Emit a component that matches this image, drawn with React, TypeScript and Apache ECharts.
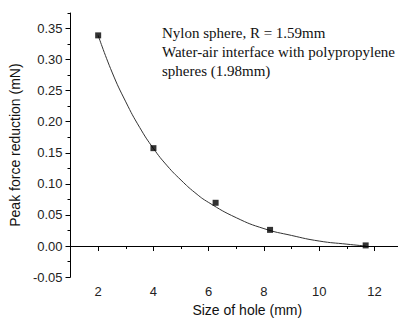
import React, { useEffect, useRef } from "react";
import * as echarts from "echarts";

// Measured points (Size of hole in mm, Peak force reduction in mN)
const holeSize = [2.0, 4.0, 6.25, 8.22, 11.68];
const forceReduction = [0.339, 0.1575, 0.0696, 0.026, 0.001];

// Fitted curve
const curveX = [2, 2.5, 3, 3.5, 4, 4.5, 5, 5.5, 6, 7, 8, 9, 10, 11, 11.68];
const curveY = [0.339, 0.28, 0.232, 0.191, 0.157, 0.129, 0.106, 0.086, 0.07, 0.0455, 0.028, 0.017, 0.008, 0.003, 0.0];

// Tick values
const xMajorTicks = [2, 4, 6, 8, 10, 12];
const xMinorTicks = [3, 5, 7, 9, 11];
const yMajorTicks = [-0.05, 0, 0.05, 0.1, 0.15, 0.2, 0.25, 0.3, 0.35];
const yMinorTicks = [-0.025, 0.025, 0.075, 0.125, 0.175, 0.225, 0.275, 0.325, 0.375];

const annotationLines = [
  "Nylon sphere, R = 1.59mm",
  "Water-air interface with polypropylene",
  "spheres (1.98mm)",
];

const X_MIN = 1;
const X_MAX = 12.85;
const Y_MIN = -0.05;
const Y_MAX = 0.375;

export default function App() {
  const ref = useRef<HTMLDivElement>(null);

  useEffect(() => {
    if (!ref.current) return;
    const chart = echarts.init(ref.current, null, { renderer: "svg" });
    const sans = "Liberation Sans";
    const axisColor = "#000";
    const labelStyle = { fontFamily: sans, fontSize: 13, color: "#222" };

    chart.setOption({
      animation: false,
      backgroundColor: "#fff",
      grid: { left: 70, top: 13, right: 0, bottom: 42, containLabel: false },
      xAxis: [
        {
          type: "value",
          min: X_MIN,
          max: X_MAX,
          position: "bottom",
          axisLine: { show: true, lineStyle: { color: axisColor, width: 1 } },
          axisTick: { show: true, customValues: xMajorTicks, length: 5, inside: false, lineStyle: { color: axisColor } },
          axisLabel: { show: true, customValues: xMajorTicks, margin: 8, ...labelStyle, formatter: (v: number) => String(v) },
          splitLine: { show: false },
          name: "Size of hole (mm)",
          nameLocation: "middle",
          nameGap: 24,
          nameTextStyle: { fontFamily: sans, fontSize: 14, color: "#111", padding: [0, 0, 0, 26] },
        },
        {
          type: "value",
          min: X_MIN,
          max: X_MAX,
          position: "bottom",
          axisLine: { show: false },
          axisTick: { show: true, customValues: xMinorTicks, length: 3, inside: false, lineStyle: { color: axisColor } },
          axisLabel: { show: false },
          splitLine: { show: false },
        },
      ],
      yAxis: [
        {
          type: "value",
          min: Y_MIN,
          max: Y_MAX,
          position: "left",
          axisLine: { show: true, lineStyle: { color: axisColor, width: 1 } },
          axisTick: { show: true, customValues: yMajorTicks, length: 5, inside: false, lineStyle: { color: axisColor } },
          axisLabel: { show: true, customValues: yMajorTicks, margin: 8, ...labelStyle, formatter: (v: number) => v.toFixed(2) },
          splitLine: { show: false },
          name: "Peak force reduction (mN)",
          nameLocation: "middle",
          nameGap: 42,
          nameTextStyle: { fontFamily: sans, fontSize: 14, color: "#111" },
        },
        {
          type: "value",
          min: Y_MIN,
          max: Y_MAX,
          position: "left",
          axisLine: { show: false },
          axisTick: { show: true, customValues: yMinorTicks, length: 3, inside: false, lineStyle: { color: axisColor } },
          axisLabel: { show: false },
          splitLine: { show: false },
        },
      ],
      series: [
        {
          type: "line",
          xAxisIndex: 0,
          yAxisIndex: 0,
          data: curveX.map((x, i) => [x, curveY[i]]),
          smooth: true,
          showSymbol: false,
          symbol: "none",
          lineStyle: { color: "#333", width: 1 },
          z: 2,
        },
        {
          type: "scatter",
          xAxisIndex: 0,
          yAxisIndex: 0,
          data: holeSize.map((x, i) => [x, forceReduction[i]]),
          symbol: "rect",
          symbolSize: 6,
          itemStyle: { color: "#000" },
          z: 3,
        },
      ],
      graphic: [
        {
          type: "text",
          left: 162,
          top: 23,
          style: {
            text: annotationLines.join("\n"),
            font: "15px 'Liberation Serif'",
            fill: "#111",
            lineHeight: 19,
          },
        },
      ],
    });

    return () => chart.dispose();
  }, []);

  return <div ref={ref} style={{ width: 398, height: 322, position: "absolute", left: 0, top: 0 }} />;
}
